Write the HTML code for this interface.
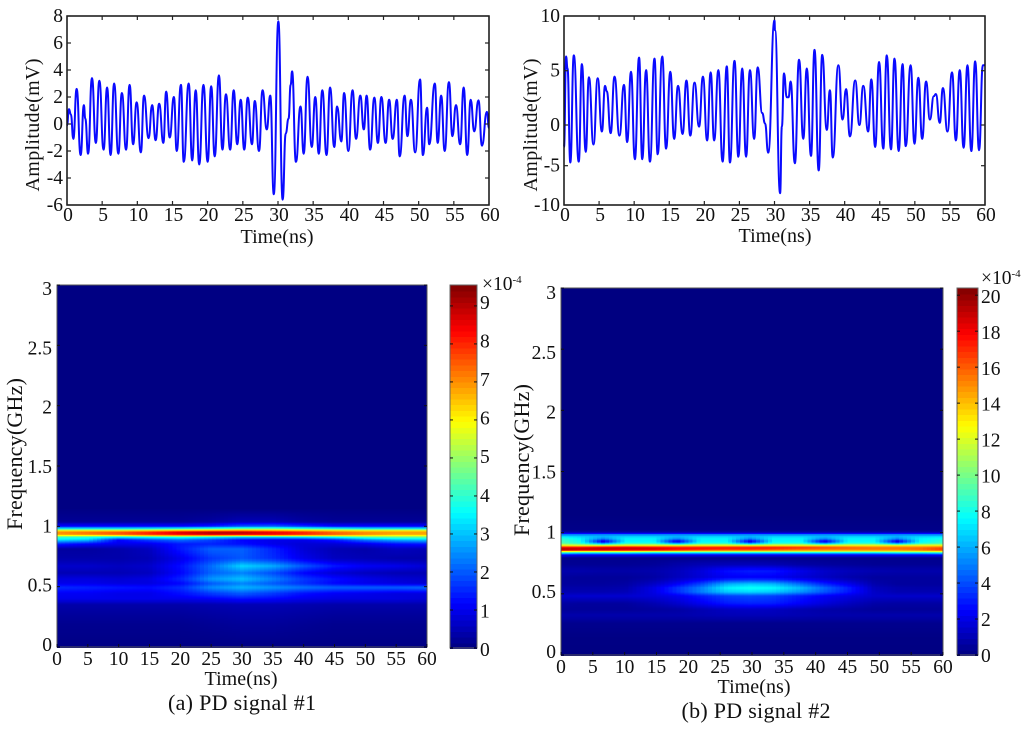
<!DOCTYPE html>
<html>
<head>
<meta charset="utf-8">
<title>PD signals and time-frequency maps</title>
<style>
html,body{margin:0;padding:0;background:#fff;}
svg{display:block;filter:blur(0.35px);}
text{font-family:"Liberation Serif",serif;fill:#111;}
.tick{font-size:19.5px;}
.title{font-size:20px;}
.title-wide{font-size:22px;}
.caption{font-size:22px;}
</style>
</head>
<body>
<svg id="figure" xmlns="http://www.w3.org/2000/svg" width="1024" height="731" viewBox="0 0 1024 731">
  <g id="panel-a-wave"></g>
  <g id="panel-b-wave"></g>
  <g id="panel-a-map"></g>
  <g id="panel-b-map"></g>

  <text class="title" x="277" y="243" text-anchor="middle" textLength="73">Time(ns)</text>
  <text class="title" transform="translate(39,125) rotate(-90)" text-anchor="middle" textLength="133">Amplitude(mV)</text>
  <text class="title" x="775" y="242" text-anchor="middle" textLength="73">Time(ns)</text>
  <text class="title" transform="translate(537,125) rotate(-90)" text-anchor="middle" textLength="133">Amplitude(mV)</text>

  <text class="title" x="241" y="685" text-anchor="middle" textLength="73">Time(ns)</text>
  <text class="title-wide" transform="translate(22,454) rotate(-90)" text-anchor="middle" textLength="152">Frequency(GHz)</text>
  <text class="title" x="754" y="693" text-anchor="middle" textLength="73">Time(ns)</text>
  <text class="title-wide" transform="translate(529,460) rotate(-90)" text-anchor="middle" textLength="152">Frequency(GHz)</text>

  <text class="caption" x="242" y="710" text-anchor="middle" textLength="148">(a) PD signal #1</text>
  <text class="caption" x="756" y="718" text-anchor="middle" textLength="149">(b) PD signal #2</text>

  <text class="tick" x="482" y="290">×10<tspan font-size="11" dy="-7">-4</tspan></text>
  <text class="tick" x="981" y="284">×10<tspan font-size="11" dy="-7">-4</tspan></text>
</svg>

<script>
/* ---------- waveform data ---------- */
var timeTickLabels = [0,5,10,15,20,25,30,35,40,45,50,55,60];
var ampTicks1 = [8,6,4,2,0,-2,-4,-6];
var ampTicks2 = [10,5,0,-5,-10];

var waveTime1 = [0,.28,.55,.9,1.37,1.94,2.4,2.6,3,3.55,4.1,4.6,5.2,5.7,6.2,6.7,7.3,7.8,8.4,8.9,9.4,9.9,10.5,10.95,11.6,12.1,12.6,13.1,13.7,14.1,14.6,15.2,15.6,16.2,16.6,17.3,17.8,18.3,18.8,19.4,20,20.5,21,21.6,22.1,22.6,23.2,23.7,24.2,24.7,25.2,25.7,26.3,26.7,27.3,27.8,28.4,28.9,29.4,30.05,30.66,31.1,31.5,31.8,32,32.55,33.2,33.65,34.2,34.8,35.3,35.8,36.3,36.9,37.4,38,38.4,39,39.4,40,40.6,41.1,41.7,42.2,42.6,43.1,43.7,44.2,44.7,45.3,45.8,46.3,46.9,47.3,48,48.4,48.9,49.5,50.2,50.6,51.2,51.5,52.3,52.7,53.2,53.7,54.3,54.8,55.3,55.9,56.4,56.9,57.4,57.9,58.5,59,59.7,60];
var waveAmp1 = [-.1,1.1,.7,-1.1,2.6,-2.3,1.4,.4,-2.2,3.4,-1.4,3.2,-1.9,2.7,-2.3,3,-2.2,2.3,-1.9,2.9,-1.5,1.6,-2.1,2.1,-1.05,1.4,-1.2,1.5,-1.4,2.4,-1,2,-2,2.9,-2.8,3,-2.7,2.5,-3,2.9,-2.8,2.8,-2.4,3.6,-1.9,2.2,-1.9,2.5,-1.5,1.8,-1.9,1.95,-1.5,1.7,-2,2.5,-.4,2.1,-5.2,7.6,-5.6,-.7,.4,2.9,3.9,-2.8,1.3,-2.2,3.5,-1.7,2,-2.2,2.5,-2.3,2.7,-1.7,1.3,-1.3,2.3,-2,2.5,-1.1,2.1,-.4,2.1,-1.9,1.95,-1.4,2,-1.4,1.8,-1.1,1.8,-2.4,2.1,-.9,1.8,-2.1,3.3,-2.3,1.2,-1.5,3,-1.4,2.1,-2,3.1,-.9,1.4,-1.5,2.7,-2.3,1.8,-.55,1.75,-1.6,.9,-.3];

var waveTime2 = [0,.3,.5,.9,1.4,2.1,2.55,3.1,3.55,4.2,4.8,5.4,5.85,6.1,6.65,7.2,7.9,8.55,9,9.55,10.1,10.7,11.15,11.7,12.25,12.9,13.35,14,14.55,15.15,15.7,16.25,16.9,17.45,18,18.6,19.25,19.8,20.4,20.9,21.4,22,22.6,23.2,23.65,24.3,24.85,25.4,25.95,26.5,27.1,27.6,28.25,28.65,29.1,30,30.07,30.8,31.05,31.35,31.75,32,32.3,32.9,33.5,34.1,34.6,35.2,35.7,36.3,36.8,37.45,37.9,38.3,39.1,39.7,40.2,40.75,41.5,42.1,42.65,43.35,43.8,44.35,44.9,45.5,46,46.6,47.1,47.7,48.25,48.7,49.4,49.95,50.5,51.05,51.6,52.15,52.7,53,53.55,54,54.65,55.3,55.85,56.4,56.95,57.5,58.05,58.6,59.15,59.7,60];
var waveAmp2 = [-2.7,6.3,5.2,-4.6,6.4,-4.5,5.6,-3.3,4.4,-2.4,4.3,-.8,3.6,3.1,-1,4.45,-1.3,3.7,-2.1,4.9,-4.2,6.2,-4.2,5.05,-4.5,6.1,-3.6,6.3,-2.9,4.9,-1.7,3.6,-1.1,4.1,-1.3,3.9,-.2,4.45,-1.9,4.85,-1.9,5.05,-4.5,5.4,-4.6,5.9,-3.9,5.2,-3.9,5.05,-1.7,5.3,1.1,.15,-3.4,9.6,8.7,-8.5,-.2,4.75,2.55,2.55,4,-4.7,6,-1.7,5.2,-3.8,6.9,-5.6,6.45,-.6,3.2,-4,5.5,.5,3.3,-1.4,4.1,0,3.6,-.8,4.2,-2.7,5.8,-2.9,6.4,-3,6.1,-3.2,5.6,-2.6,5.5,-2.3,4.35,-1.7,4,.5,2.65,2.85,.2,3.4,-.8,4.85,-1.9,5.05,-2.8,5.5,-3.2,5.85,-3.1,5.5,5.5];

/* ---------- time-frequency map data (x 1e-4) ---------- */
var mapTimes1 = [0,5,10,15,20,25,30,35,40,45,50,55,60];
var mapFreqs1 = [0,.1,.2,.3,.36,.405,.45,.5,.535,.57,.62,.68,.74,.82,.86,.895,.92,.935,.956,.975,.99,1.01,1.05,1.15,3];
var mapValues1 = [
[.05,.05,.05,.05,.05,.05,.05,.05,.05,.05,.05,.05,.05],
[.1,.1,.1,.1,.1,.12,.15,.15,.12,.1,.1,.1,.1],
[.15,.15,.15,.15,.15,.2,.25,.25,.2,.15,.15,.15,.15],
[.3,.3,.3,.3,.3,.35,.4,.4,.35,.3,.3,.3,.3],
[.4,.4,.4,.4,.4,.45,.5,.5,.45,.4,.4,.4,.4],
[1,1,1,1,1,1.1,1.3,1.2,1,.9,.9,.9,.8],
[1.1,1.1,1,1,1.3,1.7,2,1.7,1.3,1.1,1,.9,.9],
[1.6,1.5,1.4,1.3,1.6,2.5,2.9,2.6,2.3,2.1,2.1,2.1,2.2],
[1,1,.9,.9,1.2,2,2.4,2,1.6,1.2,1,.9,.8],
[.9,.9,.8,.9,1.5,2.6,3,2.4,1.7,1.3,1,.8,.7],
[.5,.5,.5,.6,1.2,2.1,2.4,1.9,1.2,.8,.6,.5,.5],
[.7,.7,.6,.7,1.3,2.2,3.2,2.8,2,1.4,1.1,1,.8],
[.4,.4,.4,.5,1,1.7,2,1.6,1,.6,.5,.4,.4],
[.3,.3,.4,.6,1.4,2.1,2.1,1.5,.8,.5,.4,.6,.5],
[1.5,1.2,1,1,1.4,1.5,1.3,1,.8,.8,1,1.3,1.4],
[3.3,3,1.2,1.8,2.2,1.8,1.2,1,1,1.4,2.3,2.8,3],
[4.2,4,3.6,3.8,4,3.6,3.2,3.2,3.4,3.8,4.4,4.6,4.6],
[6.5,6.7,7,7.5,7.8,8,7.8,7.8,7.5,7.2,6.8,6.5,6.5],
[7.2,7.5,7.8,8.3,9,9.4,9.3,8.8,8.3,7.6,7.2,7,7],
[6,6,6,6.2,6.6,6.8,7,6.8,6.5,6.2,6,6,6],
[3.2,3.2,3.2,3.3,3.5,3.8,4.2,4.2,3.8,3.5,3.2,3.2,3.2],
[1.2,1.2,1.2,1.2,1.2,1.4,1.9,2,1.6,1.2,1.2,1.2,1.2],
[.2,.2,.2,.2,.2,.3,.5,.5,.3,.2,.2,.2,.2],
[.05,.05,.05,.05,.05,.05,.05,.05,.05,.05,.05,.05,.05],
[.02,.02,.02,.02,.02,.02,.02,.02,.02,.02,.02,.02,.02]
];

var mapTimes2 = [0,3,6.6,10.2,14.6,18.2,21.8,26.1,29.7,33.3,37.8,41.4,45,49.2,52.8,56.4,60];
var mapFreqs2 = [0,.15,.27,.33,.38,.43,.49,.525,.558,.59,.64,.695,.75,.8,.825,.84,.858,.87,.885,.905,.918,.935,.96,.987,1.005,1.025,1.15,3];
var mapValues2 = [
[.05,.05,.05,.05,.05,.05,.05,.05,.05,.05,.05,.05,.05,.05,.05,.05,.05],
[.1,.1,.1,.1,.1,.1,.1,.1,.1,.1,.1,.1,.1,.1,.1,.1,.1],
[.3,.3,.3,.3,.3,.3,.3,.3,.3,.3,.3,.3,.3,.3,.3,.3,.3],
[.9,.9,.9,.9,.9,.9,1,1.1,1.1,1.1,1,.9,.9,.9,.9,.9,.9],
[.5,.5,.5,.5,.6,.7,1,1.3,1.4,1.3,1,.8,.7,.5,.5,.5,.5],
[.7,.6,.6,.6,1,1.5,2.2,3,3.2,3.1,2.4,1.8,1.3,.8,.7,.7,.7],
[1.5,1.6,1.6,1.6,1.8,2.2,3,3.8,4,3.8,3,2.4,2,1.5,1.5,1.5,1.5],
[1,1,1,1.1,2,3.4,5,6.6,6.9,6.6,5.4,4.2,3,1.4,1,1,1],
[.8,.8,.8,.9,2,3.5,5,7.4,7.9,7.6,6.2,4.6,3.2,1.2,.9,.8,.8],
[.6,.6,.6,.7,1.4,2.4,3.8,6,6.5,6.2,4.6,3.2,2.2,.9,.6,.6,.6],
[.6,.5,.5,.5,.7,1.2,1.7,2.3,2.4,2.3,1.7,1.3,.9,.6,.6,.6,.6],
[.9,.9,.8,.8,.9,1.2,1.8,2.8,3.1,3,2.1,1.5,1.2,1,.9,.9,.9],
[.4,.4,.4,.4,.5,.8,1,1.1,1.1,1,.7,.6,.5,.4,.4,.4,.4],
[.3,.3,.3,.3,.3,.3,.3,.3,.3,.3,.3,.3,.3,.3,.3,.3,.3],
[2.5,2.3,2.3,2.3,2.3,2.3,2.3,2.3,2.3,2.3,2.3,2.3,2.3,2.3,2.3,2.3,2.5],
[7.5,7,7,7,6.5,6.5,6.5,6.5,6.5,6.5,6.5,6.5,6.5,6.5,7,7,7.5],
[14.5,14,14,14,13.5,13.5,13,13,13,13,13,13,12.8,13,13,13.5,14],
[20,19.5,19.5,19,19,18,17.5,17,17,16.5,15.8,15.5,15.5,15.5,15.5,16,17],
[18,18,18.5,18.5,18,17.5,17.5,17.5,17.5,17.5,17,16.5,16,15.5,15.5,15.5,16],
[13,12.5,12.5,13,13,13,13,13,13,13,13,13,13,13,13,13,13],
[9.5,8.5,5.5,8.5,8.5,5.5,8.5,8.5,5.5,8.5,8.5,5.5,8.5,8.5,5.5,8.5,9],
[9,8,1.5,7.5,7.5,1.5,7.5,7.5,1.5,7.5,7.5,1.5,7.5,7.5,1.5,7.5,8.5],
[8.5,7.5,5.5,7.5,7.5,5.5,7.5,7.5,5.5,7.5,7.5,5.5,7.5,7.5,5.5,7.5,8],
[6.3,6.3,6.3,6.3,6.3,6.3,6.3,6.3,6.3,6.3,6.3,6.3,6.3,6.3,6.3,6.3,6.3],
[1.5,1.5,1.5,1.5,1.5,1.5,1.5,1.5,1.5,1.5,1.5,1.5,1.5,1.5,1.5,1.5,1.5],
[.2,.2,.2,.2,.2,.2,.2,.2,.2,.2,.2,.2,.2,.2,.2,.2,.2],
[.03,.03,.03,.03,.03,.03,.03,.03,.03,.03,.03,.03,.03,.03,.03,.03,.03],
[.02,.02,.02,.02,.02,.02,.02,.02,.02,.02,.02,.02,.02,.02,.02,.02,.02]
];

var freqTicks = [0,.5,1,1.5,2,2.5,3];
var freqTickLabels = ['0','0.5','1','1.5','2','2.5','3'];
var colorTicks1 = [0,1,2,3,4,5,6,7,8,9];
var colorTicks2 = [0,2,4,6,8,10,12,14,16,18,20];
var colorMax1 = 9.55;
var colorMax2 = 20.4;

/* ---------- helpers ---------- */
var NS = 'http://www.w3.org/2000/svg';
function linear(d0, d1, r0, r1) {
  return function (v) { return r0 + (v - d0) * (r1 - r0) / (d1 - d0); };
}
function piecewise(domain, range) {
  return function (v) {
    var i = 0;
    while (i < domain.length - 2 && v > domain[i + 1]) { i++; }
    return range[i] + (v - domain[i]) * (range[i + 1] - range[i]) / (domain[i + 1] - domain[i]);
  };
}
function jet(x) {
  function c(a) { return Math.round(255 * Math.max(0, Math.min(1, a))); }
  var r = 1.5 - Math.abs(4 * x - 3), g = 1.5 - Math.abs(4 * x - 2), b = 1.5 - Math.abs(4 * x - 1);
  return 'rgb(' + c(r) + ',' + c(g) + ',' + c(b) + ')';
}
function addLine(parent, x1, y1, x2, y2, color, width, name) {
  var el = document.createElementNS(NS, 'line');
  
  
  el.setAttribute('x1', x1); el.setAttribute('y1', y1);
  el.setAttribute('x2', x2); el.setAttribute('y2', y2);
  el.setAttribute('stroke', color); el.setAttribute('stroke-width', width);
  parent.appendChild(el);
}
function addLabel(parent, x, y, str, anchor, name) {
  var el = document.createElementNS(NS, 'text');
  
  
  el.setAttribute('class', 'tick');
  el.setAttribute('x', x); el.setAttribute('y', y);
  el.setAttribute('text-anchor', anchor);
  el.textContent = str;
  parent.appendChild(el);
}
function addFrame(parent, x0, y0, x1, y1, color, width, name) {
  var el = document.createElementNS(NS, 'rect');
  
  
  el.setAttribute('x', x0); el.setAttribute('y', y0);
  el.setAttribute('width', x1 - x0); el.setAttribute('height', y1 - y0);
  el.setAttribute('fill', 'none');
  el.setAttribute('stroke', color); el.setAttribute('stroke-width', width);
  parent.appendChild(el);
}

/* ---------- waveform charts ---------- */
function drawWave(id, box, yScale, yTicks, times, amps, labelY) {
  var g = document.getElementById(id);
  var xScale = linear(0, 60, box.x0, box.x1);
  var d = '';
  for (var i = 0; i < times.length; i++) {
    var px = xScale(times[i]), py = yScale(amps[i]);
    if (i === 0) {
      d = 'M' + px.toFixed(2) + ' ' + py.toFixed(2);
    } else {
      var qx = xScale(times[i - 1]), qy = yScale(amps[i - 1]), mx = (px + qx) / 2;
      d += 'C' + mx.toFixed(2) + ' ' + qy.toFixed(2) + ' ' + mx.toFixed(2) + ' ' + py.toFixed(2) + ' ' + px.toFixed(2) + ' ' + py.toFixed(2);
    }
  }
  var line = document.createElementNS(NS, 'path');
  
  
  line.setAttribute('d', d);
  line.setAttribute('fill', 'none');
  line.setAttribute('stroke', '#0a0aff');
  line.setAttribute('stroke-width', '2');
  line.setAttribute('stroke-linejoin', 'round');
  g.appendChild(line);
  addFrame(g, box.x0, box.y0, box.x1, box.y1, '#111', 1.5, 'plot-frame');
  timeTickLabels.forEach(function (t) {
    var x = xScale(t);
    addLine(g, x, box.y0, x, box.y0 + 4, '#222', 1.2, 'x-tick-top');
    addLine(g, x, box.y1, x, box.y1 - 4, '#222', 1.2, 'x-tick-bottom');
    addLabel(g, x + 1, labelY, String(t), 'middle', 'x-tick-label');
  });
  yTicks.forEach(function (v) {
    var y = yScale(v);
    addLine(g, box.x0, y, box.x0 + 4, y, '#222', 1.2, 'y-tick-left');
    addLine(g, box.x1, y, box.x1 - 4, y, '#222', 1.2, 'y-tick-right');
    addLabel(g, box.x0 - 4, y + 6, String(v), 'end', 'y-tick-label');
  });
}
drawWave('panel-a-wave', {x0: 67, x1: 489, y0: 16, y1: 205},
  linear(8, -6, 16, 205), ampTicks1, waveTime1, waveAmp1, 221);
drawWave('panel-b-wave', {x0: 564, x1: 985, y0: 16, y1: 205},
  piecewise([-10, -5, 0, 5, 10], [205, 165.7, 125, 70.7, 16]), ampTicks2, waveTime2, waveAmp2, 221);

/* ---------- time-frequency maps ---------- */
function bracket(arr, v) {
  var i = 0;
  while (i < arr.length - 2 && v > arr[i + 1]) { i++; }
  return i;
}
function drawMap(id, box, cbar, times, freqs, values, vmax, colorTicks, colorLabelScale, tickY, labelY0, labelSlope, labelRight) {
  var g = document.getElementById(id);
  var xScale = linear(0, 60, box.x0, box.x1);
  var yScale = linear(0, 3, box.y1, box.y0);
  var colorScale = linear(0, vmax, cbar.y1, cbar.y0);
  var cols = Math.round((box.x1 - box.x0) / 4);
  var layer = document.createElementNS(NS, 'g');
  
  
  layer.setAttribute('shape-rendering', 'crispEdges');
  g.appendChild(layer);
  for (var r = 0; r < freqs.length - 1; r++) {
    var yA = yScale(freqs[r]), yB = yScale(freqs[r + 1]);
    var quiet = Math.max.apply(null, values[r].concat(values[r + 1])) < 0.06;
    var rows = quiet ? 1 : Math.ceil((yA - yB) / 1.2);
    for (var k = 0; k < rows; k++) {
      var fr = (k + 0.5) / rows;
      var cy1 = yA + (yB - yA) * k / rows, cy2 = yA + (yB - yA) * (k + 1) / rows;
      for (var c = 0; c < cols; c++) {
        var t = (c + 0.5) * 60 / cols;
        var j = bracket(times, t);
        var tf = (t - times[j]) / (times[j + 1] - times[j]);
        var vLow = values[r][j] + (values[r][j + 1] - values[r][j]) * tf;
        var vHigh = values[r + 1][j] + (values[r + 1][j + 1] - values[r + 1][j]) * tf;
        var v = vLow + (vHigh - vLow) * fr;
        var cell = document.createElementNS(NS, 'rect');
        
        
        cell.setAttribute('x', xScale(c * 60 / cols).toFixed(2));
        cell.setAttribute('y', cy2.toFixed(2));
        cell.setAttribute('width', ((box.x1 - box.x0) / cols + 1).toFixed(2));
        cell.setAttribute('height', (cy1 - cy2 + 1).toFixed(2));
        cell.setAttribute('fill', jet(Math.min(1, v / vmax)));
        layer.appendChild(cell);
      }
    }
  }
  var maskRight = document.createElementNS(NS, 'rect');
  
  
  maskRight.setAttribute('x', box.x1);
  maskRight.setAttribute('y', box.y0 - 2);
  maskRight.setAttribute('width', 4);
  maskRight.setAttribute('height', box.y1 - box.y0 + 4);
  maskRight.setAttribute('fill', '#fff');
  g.appendChild(maskRight);
  addFrame(g, box.x0, box.y0, box.x1, box.y1, '#555', 1, 'heatmap-frame');
  timeTickLabels.forEach(function (t) {
    var x = xScale(t);
    addLine(g, x, box.y1, x, box.y1 - 3, '#111', 1, 'map-x-tick');
    addLabel(g, x, tickY, String(t), 'middle', 'map-x-tick-label');
  });
  freqTicks.forEach(function (f, i) {
    var y = yScale(f);
    addLine(g, box.x0, y, box.x0 + 3, y, '#111', 1, 'map-y-tick');
    addLine(g, box.x1, y, box.x1 - 3, y, '#111', 1, 'map-y-tick-right');
    addLabel(g, labelRight, labelY0 - labelSlope * f + 6, freqTickLabels[i], 'end', 'map-y-tick-label');
  });

  /* colour bar */
  var steps = 64;
  var bar = document.createElementNS(NS, 'g');
  
  
  bar.setAttribute('shape-rendering', 'crispEdges');
  g.appendChild(bar);
  for (var s = 0; s < steps; s++) {
    var swatch = document.createElementNS(NS, 'rect');
    
    
    var h = (cbar.y1 - cbar.y0) / steps;
    swatch.setAttribute('x', cbar.x0);
    swatch.setAttribute('y', (cbar.y1 - (s + 1) * h).toFixed(2));
    swatch.setAttribute('width', cbar.x1 - cbar.x0);
    swatch.setAttribute('height', (h + 1).toFixed(2));
    swatch.setAttribute('fill', jet((s + 0.5) / steps));
    bar.appendChild(swatch);
  }
  addFrame(g, cbar.x0, cbar.y0, cbar.x1, cbar.y1, '#666', 1, 'colorbar-frame');
  colorTicks.forEach(function (v) {
    var y = colorScale(v);
    addLine(g, cbar.x0, y, cbar.x0 + 3, y, '#111', 1, 'colorbar-tick-left');
    addLine(g, cbar.x1, y, cbar.x1 - 3, y, '#111', 1, 'colorbar-tick-right');
    addLabel(g, cbar.x1 + 3, colorLabelScale(v) + 6, String(v), 'start', 'colorbar-tick-label');
  });
}
drawMap('panel-a-map', {x0: 57, x1: 427, y0: 285, y1: 647}, {x0: 450, x1: 477, y0: 285, y1: 648},
  mapTimes1, mapFreqs1, mapValues1, colorMax1, colorTicks1, linear(0, 9, 650, 303), 665, 645, 118.7, 52);
drawMap('panel-b-map', {x0: 561, x1: 943, y0: 288, y1: 655}, {x0: 957, x1: 978, y0: 288, y1: 655},
  mapTimes2, mapFreqs2, mapValues2, colorMax2, colorTicks2, linear(0, 20, 656, 297), 673, 652, 119.7, 556);
</script>
</body>
</html>
